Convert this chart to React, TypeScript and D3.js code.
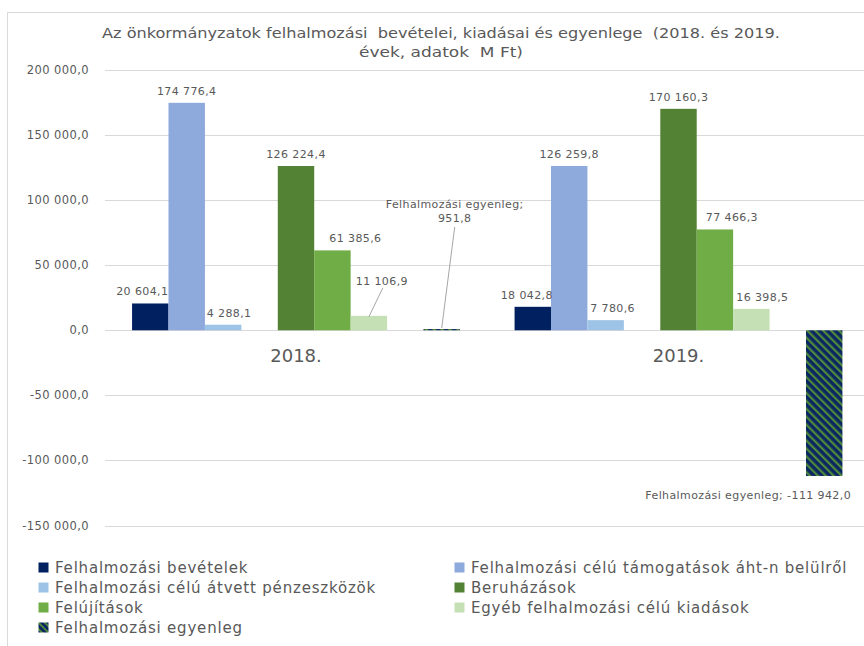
import React from 'react';
import * as d3 from 'd3';

// ---------- data ----------
const categories = ['2018.', '2019.'];
const seriesNames = [
  'Felhalmozási bevételek',
  'Felhalmozási célú támogatások áht-n belülről',
  'Felhalmozási célú átvett pénzeszközök',
  'Beruházások',
  'Felújítások',
  'Egyéb felhalmozási célú kiadások',
  'Felhalmozási egyenleg',
];
const bevetelek = [20604.1, 18042.8];
const tamogatasok = [174776.4, 126259.8];
const atvett = [4288.1, 7780.6];
const beruhazasok = [126224.4, 170160.3];
const felujitasok = [61385.6, 77466.3];
const egyeb = [11106.9, 16398.5];
const egyenleg = [951.8, -111942.0];
const yTicks = [-150000, -100000, -50000, 0, 50000, 100000, 150000, 200000];
const titleLines = [
  'Az önkormányzatok felhalmozási  bevételei, kiadásai és egyenlege  (2018. és 2019.',
  'évek, adatok  M Ft)',
];

const seriesValues = [bevetelek, tamogatasok, atvett, beruhazasok, felujitasok, egyeb, egyenleg];
// slot layout inside a category (-1 = empty slot)
const slotOrder = [0, 1, 2, -1, 3, 4, 5, -1, 6];

// ---------- style ----------
const colors = ['#002060', '#8EA9DB', '#9DC3E6', '#548235', '#70AD47', '#C5E0B4', 'url(#hatch)'];
const legendColors = ['#002060', '#8EA9DB', '#9DC3E6', '#548235', '#70AD47', '#C5E0B4', 'url(#hatchLegend)'];
const TEXT = '#595959';
const GRID = '#d9d9d9';
const FONT = '"DejaVu Sans", Verdana, sans-serif';

// label nudges [series][category] : dx, dy from default position
const nudges: Record<string, { dx: number; dy: number }> = {
  '0-0': { dx: -8, dy: 0 },
  '0-1': { dx: -6, dy: 0 },
  '2-0': { dx: 6, dy: 0 },
  '2-1': { dx: 7, dy: 0 },
  '4-0': { dx: 23, dy: 0 },
  '4-1': { dx: 17, dy: 0 },
  '5-0': { dx: 13, dy: -23 },
  '5-1': { dx: 11, dy: 0 },
};

const W = 864;
const H = 646;

const locale = d3.formatLocale({
  decimal: ',',
  thousands: ' ',
  grouping: [3],
  currency: ['', ''],
  minus: '-',
});
const fmt = locale.format(',.1f');

export default function App() {
  const x0 = d3.scaleBand<string>().domain(categories).range([104.75, 869.75]).padding(0);
  const x1 = d3
    .scaleBand<number>()
    .domain(d3.range(slotOrder.length))
    .range([0, x0.bandwidth()])
    .paddingInner(0)
    .paddingOuter(0.75);
  const y = d3.scaleLinear().domain([-150000, 200000]).range([525.5, 70]);
  const bw = x1.bandwidth();

  const bars: any[] = [];
  const labels: any[] = [];
  categories.forEach((cat, ci) => {
    slotOrder.forEach((si, slot) => {
      if (si < 0) return;
      const v = seriesValues[si][ci];
      const bx = (x0(cat) as number) + (x1(slot) as number);
      const top = y(Math.max(0, v));
      const bot = y(Math.min(0, v));
      bars.push(
        <rect key={`b${si}-${ci}`} x={bx} y={top} width={bw} height={Math.max(1, bot - top)} fill={colors[si]} />
      );
      const cx = bx + bw / 2;
      if (si === 6) {
        if (v >= 0) {
          const lx = cx + 13;
          labels.push(
            <g key={`l${si}-${ci}`}>
              <text x={lx} y={208} textAnchor="middle">Felhalmozási egyenleg;</text>
              <text x={lx} y={222} textAnchor="middle">{fmt(v)}</text>
              <line x1={lx} y1={227} x2={cx} y2={top - 1} stroke="#a6a6a6" strokeWidth={1} />
            </g>
          );
        } else {
          labels.push(
            <text key={`l${si}-${ci}`} x={cx - 76} y={bot + 23} textAnchor="middle">
              {`Felhalmozási egyenleg; ${fmt(v)}`}
            </text>
          );
        }
        return;
      }
      const n = nudges[`${si}-${ci}`] || { dx: 0, dy: 0 };
      const lx = cx + n.dx;
      const ly = top - 8 + n.dy;
      labels.push(
        <g key={`l${si}-${ci}`}>
          <text x={lx} y={ly} textAnchor="middle">{fmt(v)}</text>
          {n.dy < -10 ? (
            <line x1={lx + 1} y1={ly + 3} x2={cx} y2={top + 1} stroke="#a6a6a6" strokeWidth={1} />
          ) : null}
        </g>
      );
    });
  });

  const legendRows = [
    [0, 1],
    [2, 3],
    [4, 5],
    [6],
  ];
  const legendX = [38.5, 454.5];

  return (
    <svg
      width={W}
      height={H}
      style={{ position: 'absolute', left: 0, top: 0, background: '#fff', fontFamily: FONT }}
    >
      <defs>
        <pattern id="hatch" patternUnits="userSpaceOnUse" width={5.6} height={5.6} patternTransform="rotate(-45)">
          <rect width={5.6} height={5.6} fill="#0b2660" />
          <rect width={2.2} height={5.6} fill="#4f8a3c" />
        </pattern>
        <pattern id="hatchLegend" patternUnits="userSpaceOnUse" width={4.5} height={4.5} patternTransform="rotate(-45)">
          <rect width={4.5} height={4.5} fill="#0b2660" />
          <rect width={1.8} height={4.5} fill="#4f8a3c" />
        </pattern>
      </defs>
      <rect x={0} y={0} width={W} height={H} fill="#fff" />
      <line x1={7.5} y1={12.5} x2={W} y2={12.5} stroke={GRID} />
      <line x1={7.5} y1={12.5} x2={7.5} y2={H} stroke={GRID} />

      {/* title */}
      <g fill={TEXT} fontSize={14.5}>
        <text x={441} y={38} textAnchor="middle" textLength={678} lengthAdjust="spacingAndGlyphs" xmlSpace="preserve">
          {titleLines[0]}
        </text>
        <text x={441} y={57} textAnchor="middle" textLength={164} lengthAdjust="spacingAndGlyphs" xmlSpace="preserve">
          {titleLines[1]}
        </text>
      </g>

      {/* grid + y ticks */}
      <g>
        {yTicks.map((t) => (
          <g key={t}>
            <line x1={105} x2={W} y1={Math.round(y(t)) + 0.5} y2={Math.round(y(t)) + 0.5} stroke={GRID} />
            <text
              x={89}
              y={y(t) + 4}
              textAnchor="end"
              fontSize={11.5}
              letterSpacing={0.4}
              fill={TEXT}
            >
              {fmt(t)}
            </text>
          </g>
        ))}
      </g>

      {/* bars */}
      <g>{bars}</g>

      {/* category labels */}
      {categories.map((c) => (
        <text
          key={c}
          x={(x0(c) as number) + x0.bandwidth() / 2}
          y={361.5}
          textAnchor="middle"
          fontSize={18}
          fill={TEXT}
        >
          {c}
        </text>
      ))}

      {/* data labels */}
      <g fontSize={11} letterSpacing={0.4} fill={TEXT}>
        {labels}
      </g>

      {/* legend */}
      <g fontSize={15} letterSpacing={0.8} fill={TEXT}>
        {legendRows.map((row, ri) =>
          row.map((si, colI) => {
            const cy = 567.5 + ri * 20;
            return (
              <g key={`lg${si}`}>
                <rect x={legendX[colI]} y={cy - 5} width={10} height={10} fill={legendColors[si]} />
                <text x={legendX[colI] + 16.5} y={cy + 5.5}>
                  {seriesNames[si]}
                </text>
              </g>
            );
          })
        )}
      </g>
    </svg>
  );
}
